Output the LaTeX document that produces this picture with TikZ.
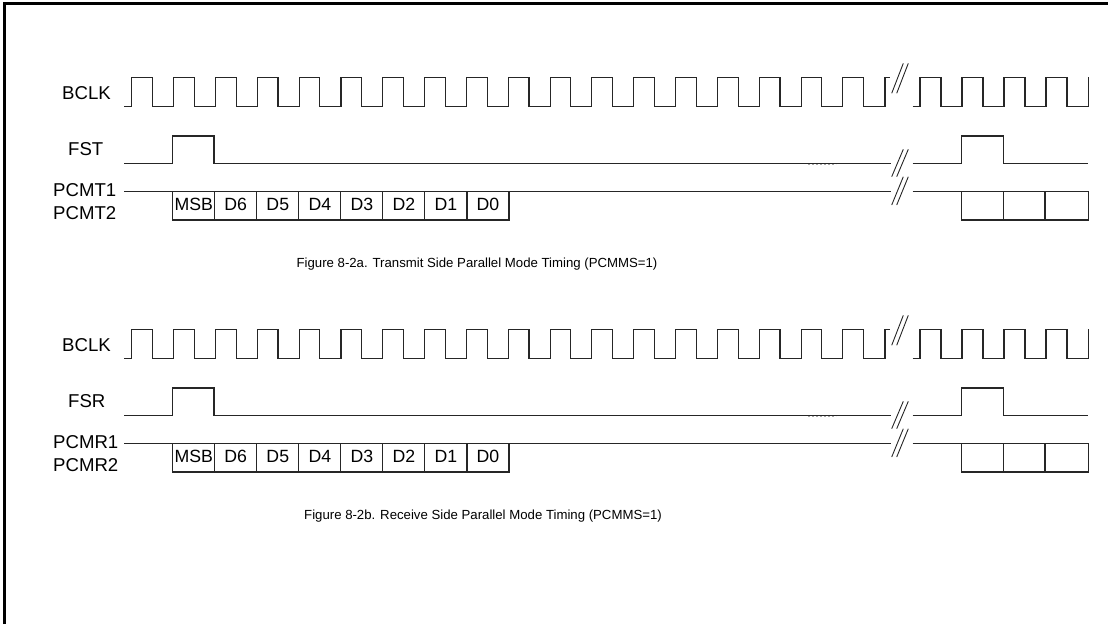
\documentclass[tikz,border=0pt]{standalone}
\usepackage{fontspec}
\setmainfont{Liberation Sans}
\tikzset{
  wave/.style={line width=1.1pt, draw=black!85},
  brk/.style={line width=0.9pt, draw=black!85},
  lbl/.style={anchor=base west, inner sep=0pt, font=\fontsize{18.6}{21}\selectfont},
  bit/.style={anchor=base, inner sep=0pt, font=\fontsize{17.7}{20}\selectfont},
  capt/.style={anchor=base, inner sep=0pt, font=\fontsize{13.2}{16}\selectfont},
  faint/.style={draw=black!35, line width=0.8pt, dash pattern=on 2pt off 2pt},
}
\newcommand\tdiag[6]{% #1 prefix, #2 FS label, #3 PCM1, #4 PCM2, #5 caption, #6 caption x
  % labels
  \node[lbl] (#1clk) at (62,99.3) {BCLK};
  \node[lbl] (#1fs) at (68,155) {#2};
  \node[lbl] (#1p1) at (53,196.7) {#3};
  \node[lbl] (#1p2) at (53,219.3) {#4};
  % clock before break
  \draw[wave] (124,106.7) \foreach \k in {0,...,17}{
      -- ({131.8+\k*41.83},106.7) -- ({131.8+\k*41.83},77.3)
      -- ({152.5+\k*41.83},77.3) -- ({152.5+\k*41.83},106.7)}
      -- (885,106.7) -- (885,77.3) -- (890,77.3);
  \draw[brk] (891.7,93.3) -- (903.3,63.3) (896.7,93.3) -- (908.3,63.3);
  % clock after break
  \draw[wave] (912.7,106.7) \foreach \k in {0,...,3}{
      -- ({920+\k*42},106.7) -- ({920+\k*42},77.3)
      -- ({941+\k*42},77.3) -- ({941+\k*42},106.7)}
      -- (1088.3,106.7) -- (1088.3,77.3);
  % frame sync
  \draw[wave] (124,163.3) -- (172.7,163.3) -- (172.7,136) -- (214,136)
      -- (214,163.3) -- (890.7,163.3);
  \draw[faint] (808,164.6) -- (836,164.6);
  \draw[brk] (891.7,176.7) -- (903.3,149.3) (896.7,176.7) -- (908.3,149.3);
  \draw[wave] (912.7,163.3) -- (961.7,163.3) -- (961.7,136) -- (1003.3,136)
      -- (1003.3,163.3) -- (1088.3,163.3);
  % data bus
  \draw[wave] (124,191.7) -- (890.7,191.7);
  \draw[brk] (891.7,205) -- (903.3,176.7) (896.7,205) -- (908.3,176.7);
  \draw[wave] (912.7,191.7) -- (1088.3,191.7);
  \draw[wave] (172.7,191.7) rectangle (509,220);
  \foreach \i in {1,...,7}{\draw[wave] ({172.7+\i*42.04},191.7) -- ({172.7+\i*42.04},220);}
  \foreach \t [count=\i from 0] in {MSB,D6,D5,D4,D3,D2,D1,D0}{
    \node[bit] (#1b\i) at ({172.7+\i*42.04+21.02},210) {\t};}
  \draw[wave] (961.7,191.7) rectangle (1088.3,220);
  \draw[wave] (1003.3,191.7) -- (1003.3,220) (1045,191.7) -- (1045,220);
  % caption
  \node[capt] (#1cap) at (#6,267) {#5};
}
\begin{document}
\begin{tikzpicture}[x=1pt,y=-1pt]
  \useasboundingbox (0,0) rectangle (1108,624);
  \draw[line width=2.7pt] (4.3,624) -- (4.3,3.3) -- (1108,3.3);
  \tdiag{a}{FST}{PCMT1}{PCMT2}{Figure 8-2a. Transmit Side Parallel Mode Timing (PCMMS=1)}{477}
  \begin{scope}[yshift=-252pt]
    \tdiag{b}{FSR}{PCMR1}{PCMR2}{Figure 8-2b. Receive Side Parallel Mode Timing (PCMMS=1)}{483}
  \end{scope}
\end{tikzpicture}
\end{document}
